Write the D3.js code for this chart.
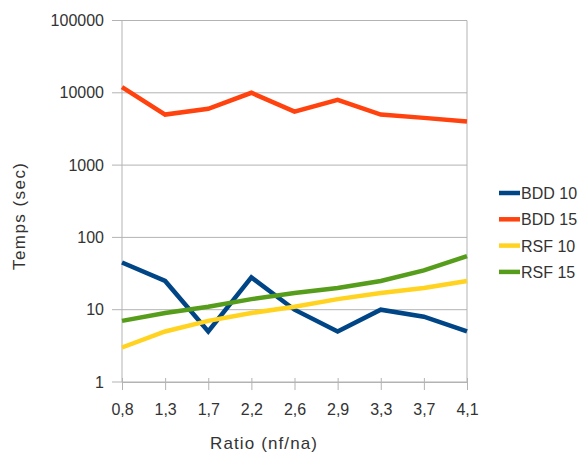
<!DOCTYPE html>
<html><head><meta charset="utf-8">
<script src="https://cdn.jsdelivr.net/npm/d3@7"></script>
<style>body{margin:0;background:#fff}text{font-family:"Liberation Sans",Arial,sans-serif;fill:#333}</style>
</head><body><svg id="c" width="580" height="459"></svg>
<script>
const categories = ["0,8","1,3","1,7","2,2","2,6","2,9","3,3","3,7","4,1"];
const bdd10 = [45, 25, 5, 28, 10, 5, 10, 8, 5];
const bdd15 = [12000, 5000, 6000, 10000, 5500, 8000, 5000, 4500, 4000];
const rsf10 = [3, 5, 7, 9, 11, 14, 17, 20, 25];
const rsf15 = [7, 9, 11, 14, 17, 20, 25, 35, 55];
const yTicks = [1, 10, 100, 1000, 10000, 100000];
const seriesNames = ["BDD 10","BDD 15","RSF 10","RSF 15"];
const seriesColors = ["#004586","#ff420e","#ffd320","#579d1c"];
const series = [bdd10, bdd15, rsf10, rsf15];

const svg = d3.select("#c");
const L = 122, R = 467, T = 20.5, B = 382;
const x = d3.scalePoint().domain(categories).range([L, R]);
const y = d3.scaleLog().domain([1, 100000]).range([B, T]);

// gridlines
svg.append("g").selectAll("line").data(yTicks).join("line")
  .attr("x1", L - 10).attr("x2", R).attr("y1", d => y(d)).attr("y2", d => y(d))
  .attr("stroke", "#b3b3b3").attr("stroke-width", 1);
// frame verticals
svg.append("line").attr("x1", L).attr("x2", L).attr("y1", T).attr("y2", B).attr("stroke", "#b3b3b3");
svg.append("line").attr("x1", R).attr("x2", R).attr("y1", T).attr("y2", B).attr("stroke", "#b3b3b3");

// y axis labels
const yAxis = d3.axisLeft(y).tickValues(yTicks).tickFormat(d3.format("d")).tickSize(0).tickPadding(18);
const gy = svg.append("g").attr("transform", `translate(${L},0)`).call(yAxis);
gy.select(".domain").remove();
gy.selectAll("text").attr("font-size", 16).attr("fill", "#333").attr("font-family", '"Liberation Sans",Arial,sans-serif');

// x axis
const xAxis = d3.axisBottom(x).tickSize(0).tickPadding(22);
const gx = svg.append("g").attr("transform", `translate(0,${B})`).call(xAxis);
gx.select(".domain").attr("stroke", "#b3b3b3");
gx.selectAll(".tick").append("line").attr("y1", -4).attr("y2", 8).attr("stroke", "#b3b3b3");
gx.selectAll("text").attr("font-size", 16).attr("fill", "#333").attr("font-family", '"Liberation Sans",Arial,sans-serif');

// lines
const line = d3.line().x((d, i) => x(categories[i])).y(d => y(d));
series.forEach((s, k) => {
  svg.append("path").datum(s).attr("d", line).attr("fill", "none")
    .attr("stroke", seriesColors[k]).attr("stroke-width", 4.5)
    .attr("stroke-linejoin", "miter").attr("stroke-linecap", "butt");
});

// legend
const lg = svg.append("g");
seriesNames.forEach((n, k) => {
  const yy = 193 + k * 26.3;
  lg.append("line").attr("x1", 499).attr("x2", 520).attr("y1", yy).attr("y2", yy)
    .attr("stroke", seriesColors[k]).attr("stroke-width", 4.5);
  lg.append("text").attr("x", 521).attr("y", yy + 6).attr("font-size", 16).text(n);
});

// titles
svg.append("text").attr("x", 263.5).attr("y", 449).attr("text-anchor", "middle")
  .attr("font-size", 17).attr("textLength", 107).attr("lengthAdjust", "spacing").text("Ratio (nf/na)");
svg.append("text").attr("transform", "translate(25,216.5) rotate(-90)").attr("text-anchor", "middle")
  .attr("font-size", 17).attr("textLength", 107).attr("lengthAdjust", "spacing").text("Temps (sec)");
</script></body></html>
